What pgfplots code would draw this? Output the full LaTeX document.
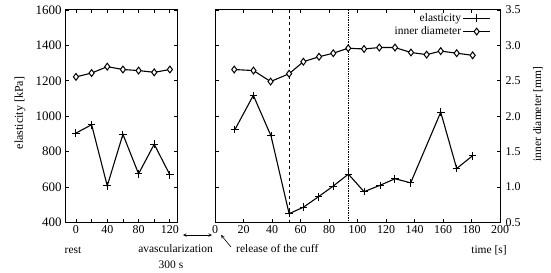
\documentclass[border=0pt]{standalone}
\usepackage{fontspec}
\setmainfont{Liberation Serif}
\usepackage{pgfplots}
\pgfplotsset{compat=1.18}
\begin{document}
\begin{tikzpicture}[x=1bp,y=1bp]
\useasboundingbox (0,0) rectangle (551,272);
\pgfplotsset{
  base/.style={scale only axis, height=212.5bp,
    /pgf/number format/assume math mode=true,
    /pgf/number format/1000 sep={},
    tick label style={font=\fontsize{12}{13}\selectfont},
    tick align=inside, major tick length=3.5bp,
    axis line style={line width=1pt},
    every tick/.style={black, line width=0.8pt}},
  el/.style={black, line width=1.1pt, mark=+, mark size=3.8bp, mark options={line width=1pt}},
  di/.style={black, line width=1.1pt, mark=diamond*, mark size=3.4bp, mark options={fill=white, line width=1pt}},
}
% ---------- left panel ----------
\begin{axis}[base, at={(65bp,49.5bp)}, anchor=south west, width=112.7bp,
  xmin=-14, xmax=130, ymin=400, ymax=1600,
  ytick={400,600,...,1600}, ytick pos=both,
  yticklabel style={font=\fontsize{13}{14}\selectfont},
  xtick={0,20,...,120}, xticklabels={0,,40,,80,,120}, xtick pos=both]
\addplot[el] coordinates {(0,905) (20,952) (40,607) (60,898) (80,675) (100,842) (120,669)};
\end{axis}
\begin{axis}[base, at={(65bp,49.5bp)}, anchor=south west, width=112.7bp,
  xmin=-14, xmax=130, ymin=0.5, ymax=3.5, hide axis]
\addplot[di] coordinates {(0,2.556) (20,2.61) (40,2.70) (60,2.66) (80,2.645) (100,2.62) (120,2.66)};
\end{axis}
% ---------- right panel ----------
\begin{axis}[base, at={(215bp,49.5bp)}, anchor=south west, width=285bp,
  xmin=0, xmax=200, ymin=400, ymax=1600,
  ytick={400,600,...,1600}, yticklabels={}, ytick pos=left,
  xtick={0,20,...,200}, xtick pos=both]
\addplot[black, dashed, line width=0.8pt] coordinates {(52,400) (52,1600)};
\addplot[black, densely dotted, line width=0.7pt] coordinates {(93.6,400) (93.6,1600)};
\addplot[el] coordinates {(14,925) (26.9,1118) (39.3,889) (52,450) (62,486) (72.5,545) (83,606) (93.6,673) (104.6,574) (115.8,610) (126.3,647) (137.3,624) (158.4,1023) (169.6,705) (180.6,776)};
\end{axis}
\begin{axis}[base, at={(215bp,49.5bp)}, anchor=south west, width=285bp,
  xmin=0, xmax=200, ymin=0.5, ymax=3.5,
  axis x line=none, axis y line*=right,
  ytick={0.5,1.0,...,3.5},
  yticklabel style={xshift=2bp, /pgf/number format/fixed, /pgf/number format/fixed zerofill, /pgf/number format/precision=1},
  legend style={draw=none, fill=none, at={(0.968,0.992)}, anchor=north east,
    font=\fontsize{11.5}{12}\selectfont, row sep=1pt, inner sep=0pt,
    nodes={inner sep=1.5pt}},
  legend image code/.code={\draw[mark repeat=2, mark phase=2, #1] plot coordinates {(0bp,0bp) (13.5bp,0bp) (27bp,0bp)};},
  legend cell align=right, legend plot pos=right]
\addlegendimage{el}
\addlegendentry{elasticity}
\addplot[di] coordinates {(13.5,2.66) (27,2.645) (39,2.49) (52,2.60) (62,2.77) (73,2.84) (83,2.89) (93.5,2.96) (104.6,2.95) (115.3,2.97) (126.3,2.97) (137.5,2.90) (148.5,2.87) (158.4,2.92) (169.6,2.89) (180.8,2.86)};
\addlegendentry{inner diameter}
\end{axis}
% ---------- annotations ----------
\begin{scope}[font=\fontsize{11.5}{12}\selectfont]
\node[rotate=90, font=\fontsize{12}{13}\selectfont] at (20,159) {elasticity [kPa]};
\node[rotate=90] at (538,158) {inner diameter [mm]};
\node at (73,22) {rest};
\node at (175.5,23) {avascularization};
\node at (171,7) {300 s};
\draw[<->, >=stealth, line width=0.6pt] (183,37) -- (212,37);
\node[anchor=west, inner sep=0pt] at (236,23) {release of the cuff};
\draw[->, >=stealth, line width=0.6pt] (231,25) -- (221,37);
\node at (489,22) {time [s]};
\end{scope}
\end{tikzpicture}
\end{document}
